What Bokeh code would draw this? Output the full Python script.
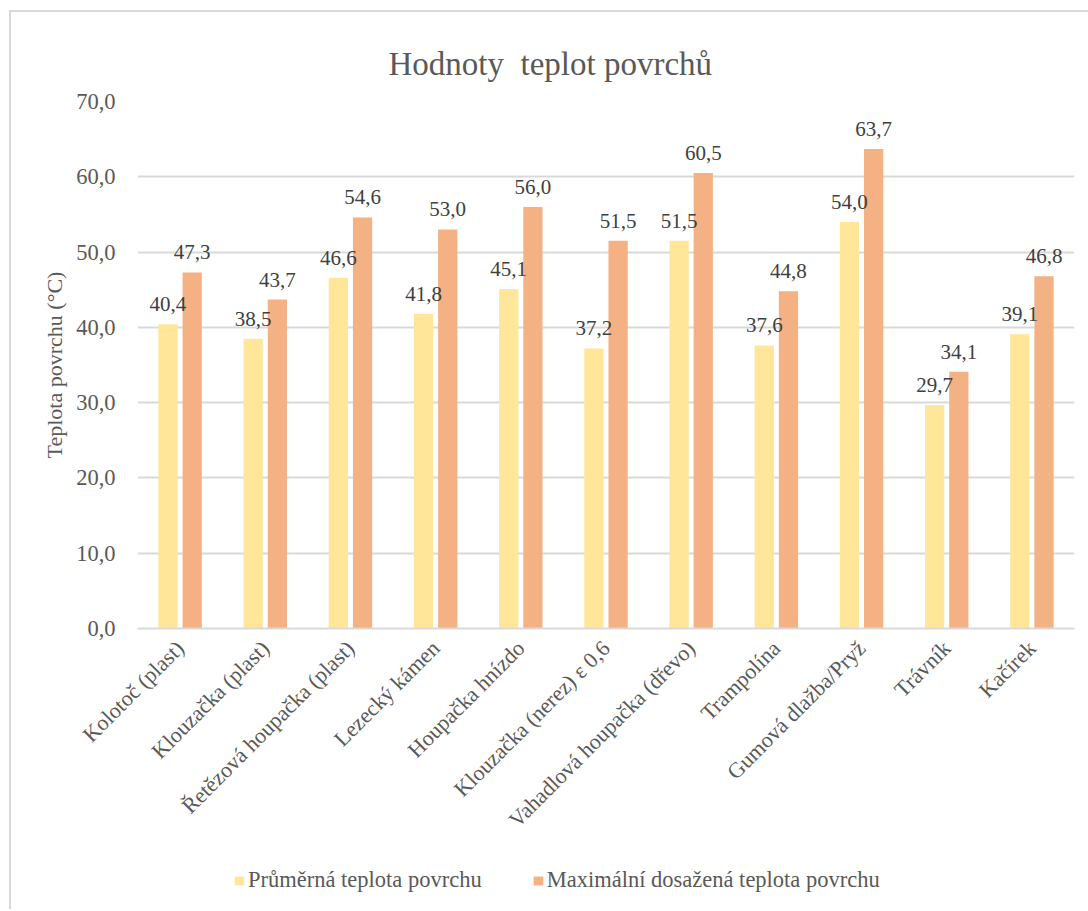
import math

from bokeh.core.properties import value
from bokeh.embed import file_html
from bokeh.layouts import column
from bokeh.models import (ColumnDataSource, CustomJSTickFormatter, FactorRange,
                          Legend, LegendItem, Range1d, SingleIntervalTicker)
from bokeh.plotting import figure
from bokeh.resources import INLINE
from bokeh.transform import dodge

# --- data -------------------------------------------------------------
categories = [
    "Kolotoč (plast)",
    "Klouzačka (plast)",
    "Řetězová houpačka (plast)",
    "Lezecký kámen",
    "Houpačka hnízdo",
    "Klouzačka (nerez) ε 0,6",
    "Vahadlová houpačka (dřevo)",
    "Trampolína",
    "Gumová dlažba/Pryž",
    "Trávník",
    "Kačírek",
]
prumerna = [40.4, 38.5, 46.6, 41.8, 45.1, 37.2, 51.5, 37.6, 54.0, 29.7, 39.1]
maximalni = [47.3, 43.7, 54.6, 53.0, 56.0, 51.5, 60.5, 44.8, 63.7, 34.1, 46.8]

series_names = ["Průměrná teplota povrchu", "Maximální dosažená teplota povrchu"]
title_text = "Hodnoty\u00a0 teplot povrchů"
y_title = "Teplota povrchu (°C)"


def cz(v):
    return f"{v:.1f}".replace(".", ",")


source = ColumnDataSource(dict(
    cat=categories,
    prumerna=prumerna,
    maximalni=maximalni,
    prumerna_txt=[cz(v) for v in prumerna],
    maximalni_txt=[cz(v) for v in maximalni],
))

FONT = "Liberation Serif"
GREY = "#595959"
DARK = "#404040"
GRID = "#D9D9D9"
YELLOW = "#FFE699"
ORANGE = "#F4B183"

x_range = FactorRange(*categories, range_padding=0)
off = 0.142
bw = 0.226

# --- main chart --------------------------------------------------------
p = figure(
    x_range=x_range,
    y_range=Range1d(0, 70),
    width=1077, height=840,
    min_border_left=126, min_border_right=14,
    min_border_top=89, min_border_bottom=224,
    output_backend="svg", toolbar_location=None,
    outline_line_color=None,
)

p.title.text = title_text
p.title.align = "left"
p.title.offset = 251
p.title.standoff = 40
p.title.text_font = FONT
p.title.text_font_size = "33px"
p.title.text_font_style = "normal"
p.title.text_color = GREY

p.vbar(x=dodge("cat", -off, range=x_range), top="prumerna", width=bw,
       source=source, fill_color=YELLOW, line_color=None)
p.vbar(x=dodge("cat", off, range=x_range), top="maximalni", width=bw,
       source=source, fill_color=ORANGE, line_color=None)

# value labels above the bars
for col, dx in (("prumerna", -off), ("maximalni", off)):
    p.text(x=dodge("cat", dx, range=x_range), y=col, text=col + "_txt",
           source=source, text_align="center", text_baseline="alphabetic",
           y_offset=-20, text_font=value(FONT), text_font_size="21px",
           text_color=DARK)

p.yaxis.ticker = SingleIntervalTicker(interval=10)
p.yaxis.formatter = CustomJSTickFormatter(code="return tick.toFixed(1).replace('.', ',');")
p.yaxis.axis_line_color = None
p.yaxis.major_tick_line_color = None
p.yaxis.minor_tick_line_color = None
p.yaxis.major_label_standoff = 16
p.yaxis.major_label_text_font = FONT
p.yaxis.major_label_text_font_size = "22.5px"
p.yaxis.major_label_text_color = GREY
p.yaxis.axis_label = y_title
p.yaxis.axis_label_text_font = FONT
p.yaxis.axis_label_text_font_size = "22px"
p.yaxis.axis_label_text_font_style = "normal"
p.yaxis.axis_label_text_color = GREY
p.yaxis.axis_label_standoff = 6

p.xaxis.axis_line_color = GRID
p.xaxis.axis_line_width = 2
p.xaxis.major_tick_line_color = None
p.xaxis.minor_tick_line_color = None
p.xaxis.major_label_orientation = math.pi / 4
p.xaxis.major_label_standoff = 10
p.xaxis.major_label_text_font = FONT
p.xaxis.major_label_text_font_size = "22px"
p.xaxis.major_label_text_color = GREY

p.xgrid.grid_line_color = None
p.ygrid.grid_line_color = GRID
p.ygrid.grid_line_width = 2

# --- legend strip under the chart ---------------------------------------
# same series, drawn in a strip whose y-range keeps the bars out of view,
# so only the legend swatches show
leg = figure(
    x_range=x_range, y_range=Range1d(1000, 1001),
    width=1077, height=57,
    min_border=0, x_axis_type=None, y_axis_type=None,
    output_backend="svg", toolbar_location=None,
    outline_line_color=None,
)
leg.grid.visible = False
l1 = leg.vbar(x=dodge("cat", -off, range=x_range), top="prumerna", width=bw,
              source=source, fill_color=YELLOW, line_color=None)
l2 = leg.vbar(x=dodge("cat", off, range=x_range), top="maximalni", width=bw,
              source=source, fill_color=ORANGE, line_color=None)
legend = Legend(
    items=[LegendItem(label=series_names[0], renderers=[l1]),
           LegendItem(label=series_names[1], renderers=[l2])],
    orientation="horizontal", location=(96, 16),
    padding=0, margin=0, spacing=50, label_standoff=3,
    glyph_width=12, glyph_height=11, label_height=24,
    label_text_font=FONT, label_text_font_size="22.5px", label_text_color=GREY,
    border_line_color=None, background_fill_alpha=0,
)
leg.add_layout(legend, "center")

# chart area: 9 px from the left, 10 px from the top, grey line on those sides
page = column(
    p, leg, spacing=0,
    margin=(10, 0, 0, 9),
    styles={"border-left": f"2px solid {GRID}", "border-top": f"2px solid {GRID}"},
)

open("out.html", "w").write(file_html(page, INLINE))
